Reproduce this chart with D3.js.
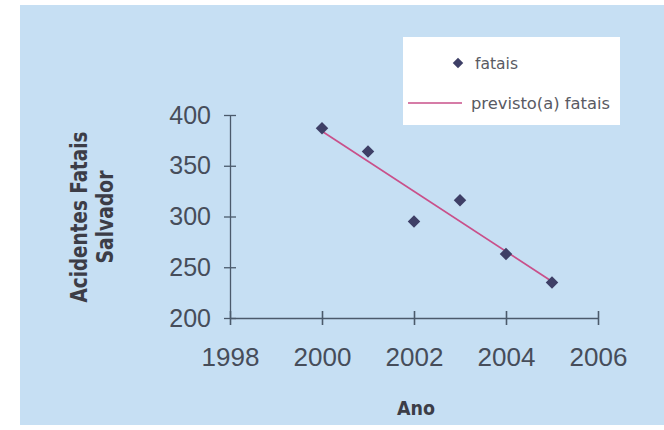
<!DOCTYPE html>
<html>
<head>
<meta charset="utf-8">
<script src="https://cdn.jsdelivr.net/npm/d3@7"></script>
<style>
  body { margin: 0; background: #fff; }
  svg { display: block; }
</style>
</head>
<body>
<svg id="chart"></svg>
<script>
// Data
var anos = [2000, 2001, 2002, 2003, 2004, 2005];
var fatais = [387, 364, 295, 316, 263, 235];
// fitted line end points (as drawn)
var previstoAnos = [2000, 2005];
var previsto = [384, 236];

var xTicks = [1998, 2000, 2002, 2004, 2006];
var yTicks = [200, 250, 300, 350, 400];

var width = 664,
    height = 430;

var svg = d3.select('#chart')
    .attr('width', width)
    .attr('height', height);

// Light blue panel
svg.append('rect')
    .attr('x', 20).attr('y', 5)
    .attr('width', width - 20).attr('height', 420)
    .attr('fill', '#c6dff3');

var x = d3.scaleLinear().domain([1998, 2006]).range([230, 598]);
var y = d3.scaleLinear().domain([200, 400]).range([318, 115]);

var axisColor = '#4b5a6b',
    textColor = '#464d5a',
    numFont = 'Liberation Sans, Arial, sans-serif',
    narrowFont = 'DejaVu Sans Condensed, Liberation Sans Narrow, Arial Narrow, sans-serif';

// Y axis
var yAxis = svg.append('g')
    .attr('transform', 'translate(' + x(1998) + ',0)')
    .call(d3.axisLeft(y).tickValues(yTicks).tickSize(0).tickPadding(19));
yAxis.select('.domain').attr('stroke', axisColor).attr('stroke-width', 1.3);
yAxis.selectAll('text')
    .attr('fill', textColor)
    .style('font-family', numFont)
    .style('font-size', '25px');
yAxis.selectAll('.tick').append('line')
    .attr('x1', -6).attr('x2', 6)
    .attr('stroke', axisColor).attr('stroke-width', 1.3);

// X axis
var xAxis = svg.append('g')
    .attr('transform', 'translate(0,' + y(200) + ')')
    .call(d3.axisBottom(x).tickValues(xTicks).tickFormat(d3.format('d')).tickSize(0).tickPadding(40));
xAxis.select('.domain').attr('stroke', axisColor).attr('stroke-width', 1.3);
xAxis.selectAll('text')
    .attr('fill', textColor)
    .attr('dy', '0.32em')
    .style('font-family', numFont)
    .style('font-size', '26px');
xAxis.selectAll('.tick').append('line')
    .attr('y1', -7).attr('y2', 7)
    .attr('stroke', axisColor).attr('stroke-width', 1.6);

// Axis titles
var yTitle = svg.append('g')
    .attr('transform', 'translate(0,217) rotate(-90)');
yTitle.append('text')
    .attr('x', 0).attr('y', 87)
    .attr('text-anchor', 'middle')
    .attr('textLength', 171)
    .attr('lengthAdjust', 'spacingAndGlyphs')
    .attr('fill', '#3c3d47')
    .style('font-family', narrowFont)
    .style('font-weight', 'bold')
    .style('font-size', '23px')
    .text('Acidentes Fatais');
yTitle.append('text')
    .attr('x', 0).attr('y', 113)
    .attr('text-anchor', 'middle')
    .attr('textLength', 93)
    .attr('lengthAdjust', 'spacingAndGlyphs')
    .attr('fill', '#3c3d47')
    .style('font-family', narrowFont)
    .style('font-weight', 'bold')
    .style('font-size', '23px')
    .text('Salvador');

svg.append('text')
    .attr('x', 416).attr('y', 415)
    .attr('text-anchor', 'middle')
    .attr('textLength', 38)
    .attr('lengthAdjust', 'spacingAndGlyphs')
    .attr('fill', '#3c3d47')
    .style('font-family', narrowFont)
    .style('font-weight', 'bold')
    .style('font-size', '19px')
    .text('Ano');

// Predicted line
var line = d3.line()
    .x(function (d) { return x(d[0]); })
    .y(function (d) { return y(d[1]); });

svg.append('path')
    .datum(d3.zip(previstoAnos, previsto))
    .attr('d', line)
    .attr('fill', 'none')
    .attr('stroke', '#c9508a')
    .attr('stroke-width', 1.7);

// Points
var diamond = d3.symbol().type(d3.symbolDiamond2).size(100);
svg.selectAll('path.pt')
    .data(d3.zip(anos, fatais))
    .enter().append('path')
    .attr('class', 'pt')
    .attr('d', diamond)
    .attr('transform', function (d) { return 'translate(' + x(d[0]) + ',' + y(d[1]) + ')'; })
    .attr('fill', '#3e3f66');

// Legend
var legend = svg.append('g');
legend.append('rect')
    .attr('x', 403).attr('y', 37)
    .attr('width', 217).attr('height', 88)
    .attr('fill', '#ffffff');
legend.append('path')
    .attr('d', d3.symbol().type(d3.symbolDiamond2).size(70))
    .attr('transform', 'translate(458,63)')
    .attr('fill', '#3e3f66');
legend.append('text')
    .attr('x', 475).attr('y', 69)
    .attr('textLength', 43)
    .attr('lengthAdjust', 'spacingAndGlyphs')
    .attr('fill', '#595a63')
    .style('font-family', narrowFont)
    .style('font-size', '16px')
    .text('fatais');
legend.append('line')
    .attr('x1', 408).attr('x2', 462)
    .attr('y1', 103).attr('y2', 103)
    .attr('stroke', '#c9508a')
    .attr('stroke-width', 1.7);
legend.append('text')
    .attr('x', 471).attr('y', 109)
    .attr('textLength', 139)
    .attr('lengthAdjust', 'spacingAndGlyphs')
    .attr('fill', '#595a63')
    .style('font-family', narrowFont)
    .style('font-size', '16px')
    .text('previsto(a) fatais');
</script>
</body>
</html>
